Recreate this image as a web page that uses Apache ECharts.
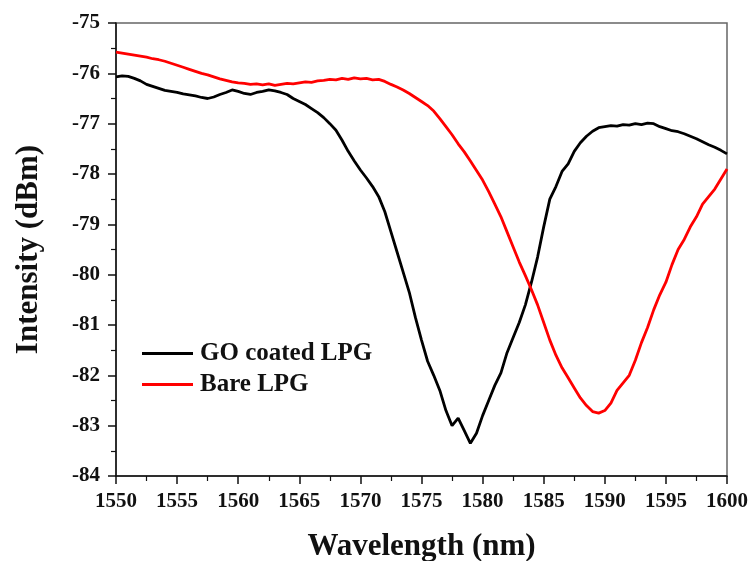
<!DOCTYPE html>
<html>
<head>
<meta charset="utf-8">
<script src="https://cdn.jsdelivr.net/npm/echarts@6/dist/echarts.min.js"></script>
<style>html,body{margin:0;padding:0;background:#fff;}#c{width:750px;height:561px;}</style>
</head>
<body>
<div id="c"></div>
<script>
const wavelength = [];
for (let i = 0; i <= 100; i++) wavelength.push(1550 + i * 0.5);

const goCoated = [
-76.07,-76.05,-76.06,-76.10,-76.15,-76.22,-76.26,-76.30,-76.34,-76.36,
-76.38,-76.41,-76.43,-76.45,-76.48,-76.50,-76.47,-76.42,-76.38,-76.33,
-76.36,-76.40,-76.42,-76.38,-76.36,-76.33,-76.35,-76.38,-76.42,-76.50,
-76.56,-76.62,-76.70,-76.78,-76.88,-77.00,-77.13,-77.33,-77.55,-77.74,
-77.92,-78.08,-78.25,-78.45,-78.75,-79.15,-79.55,-79.95,-80.35,-80.85,
-81.30,-81.72,-82.00,-82.30,-82.70,-83.00,-82.85,-83.10,-83.35,-83.15,
-82.80,-82.50,-82.20,-81.95,-81.55,-81.25,-80.95,-80.60,-80.15,-79.65,
-79.05,-78.50,-78.25,-77.95,-77.80,-77.55,-77.38,-77.25,-77.15,-77.08,
-77.06,-77.04,-77.05,-77.02,-77.03,-77.00,-77.02,-76.99,-77.00,-77.06,
-77.10,-77.14,-77.16,-77.20,-77.25,-77.30,-77.36,-77.42,-77.47,-77.53,
-77.60];

const bare = [
-75.58,-75.60,-75.62,-75.64,-75.66,-75.68,-75.71,-75.73,-75.76,-75.80,
-75.84,-75.88,-75.92,-75.96,-76.00,-76.03,-76.07,-76.11,-76.14,-76.17,
-76.19,-76.20,-76.22,-76.21,-76.23,-76.21,-76.24,-76.22,-76.20,-76.21,
-76.19,-76.17,-76.18,-76.15,-76.14,-76.12,-76.13,-76.10,-76.12,-76.09,
-76.11,-76.10,-76.13,-76.12,-76.16,-76.22,-76.27,-76.33,-76.40,-76.48,
-76.56,-76.64,-76.75,-76.90,-77.06,-77.22,-77.40,-77.56,-77.74,-77.93,
-78.12,-78.35,-78.60,-78.85,-79.15,-79.45,-79.75,-80.02,-80.30,-80.60,
-80.95,-81.30,-81.60,-81.85,-82.05,-82.25,-82.45,-82.60,-82.72,-82.75,
-82.70,-82.55,-82.30,-82.15,-82.00,-81.70,-81.35,-81.05,-80.70,-80.40,
-80.15,-79.80,-79.50,-79.30,-79.05,-78.85,-78.60,-78.45,-78.30,-78.10,
-77.90];

const seriesNames = ['GO coated LPG', 'Bare LPG'];
const xTitle = 'Wavelength (nm)';
const yTitle = 'Intensity (dBm)';

const font = '"Liberation Serif", "Times New Roman", serif';
const chart = echarts.init(document.getElementById('c'));
chart.setOption({
  animation: false,
  backgroundColor: '#fff',
  grid: { left: 116, right: 23, top: 23, bottom: 85, show: true, borderColor: '#666', borderWidth: 1.5,
    containLabel: false, outerBoundsMode: 'none' },
  legend: {
    orient: 'vertical', left: 137, top: 336, itemWidth: 51, itemHeight: 3, itemGap: 6,
    icon: 'rect',
    data: seriesNames,
    textStyle: { fontFamily: font, fontWeight: 'bold', fontSize: 25, color: '#111', padding: [0, 0, 0, 2] }
  },
  xAxis: {
    type: 'value', min: 1550, max: 1600, interval: 5,
    name: xTitle, nameLocation: 'middle', nameGap: 55,
    nameTextStyle: { fontFamily: font, fontWeight: 'bold', fontSize: 31, color: '#111' },
    axisLine: { show: true, lineStyle: { color: '#111', width: 1.5 } },
    axisTick: { show: true, length: 8, lineStyle: { color: '#111', width: 1.5 } },
    minorTick: { show: true, splitNumber: 2, length: 5, lineStyle: { color: '#111', width: 1.2 } },
    splitLine: { show: false },
    axisLabel: { fontFamily: font, fontWeight: 'bold', fontSize: 21, color: '#111', margin: 15,
      formatter: v => String(v) }
  },
  yAxis: {
    type: 'value', min: -84, max: -75, interval: 1,
    name: yTitle, nameLocation: 'middle', nameGap: 72,
    nameTextStyle: { fontFamily: font, fontWeight: 'bold', fontSize: 31, color: '#111' },
    axisLine: { show: true, lineStyle: { color: '#111', width: 1.5 } },
    axisTick: { show: true, length: 8, lineStyle: { color: '#111', width: 1.5 } },
    minorTick: { show: true, splitNumber: 2, length: 5, lineStyle: { color: '#111', width: 1.2 } },
    splitLine: { show: false },
    axisLabel: { fontFamily: font, fontWeight: 'bold', fontSize: 21, color: '#111', margin: 16 }
  },
  series: [
    { name: seriesNames[0], type: 'line', symbol: 'none', data: wavelength.map((w, i) => [w, goCoated[i]]),
      lineStyle: { color: '#000', width: 2.8 }, itemStyle: { color: '#000' } },
    { name: seriesNames[1], type: 'line', symbol: 'none', data: wavelength.map((w, i) => [w, bare[i]]),
      lineStyle: { color: '#ff0000', width: 2.8 }, itemStyle: { color: '#ff0000' } }
  ]
});
</script>
</body>
</html>
